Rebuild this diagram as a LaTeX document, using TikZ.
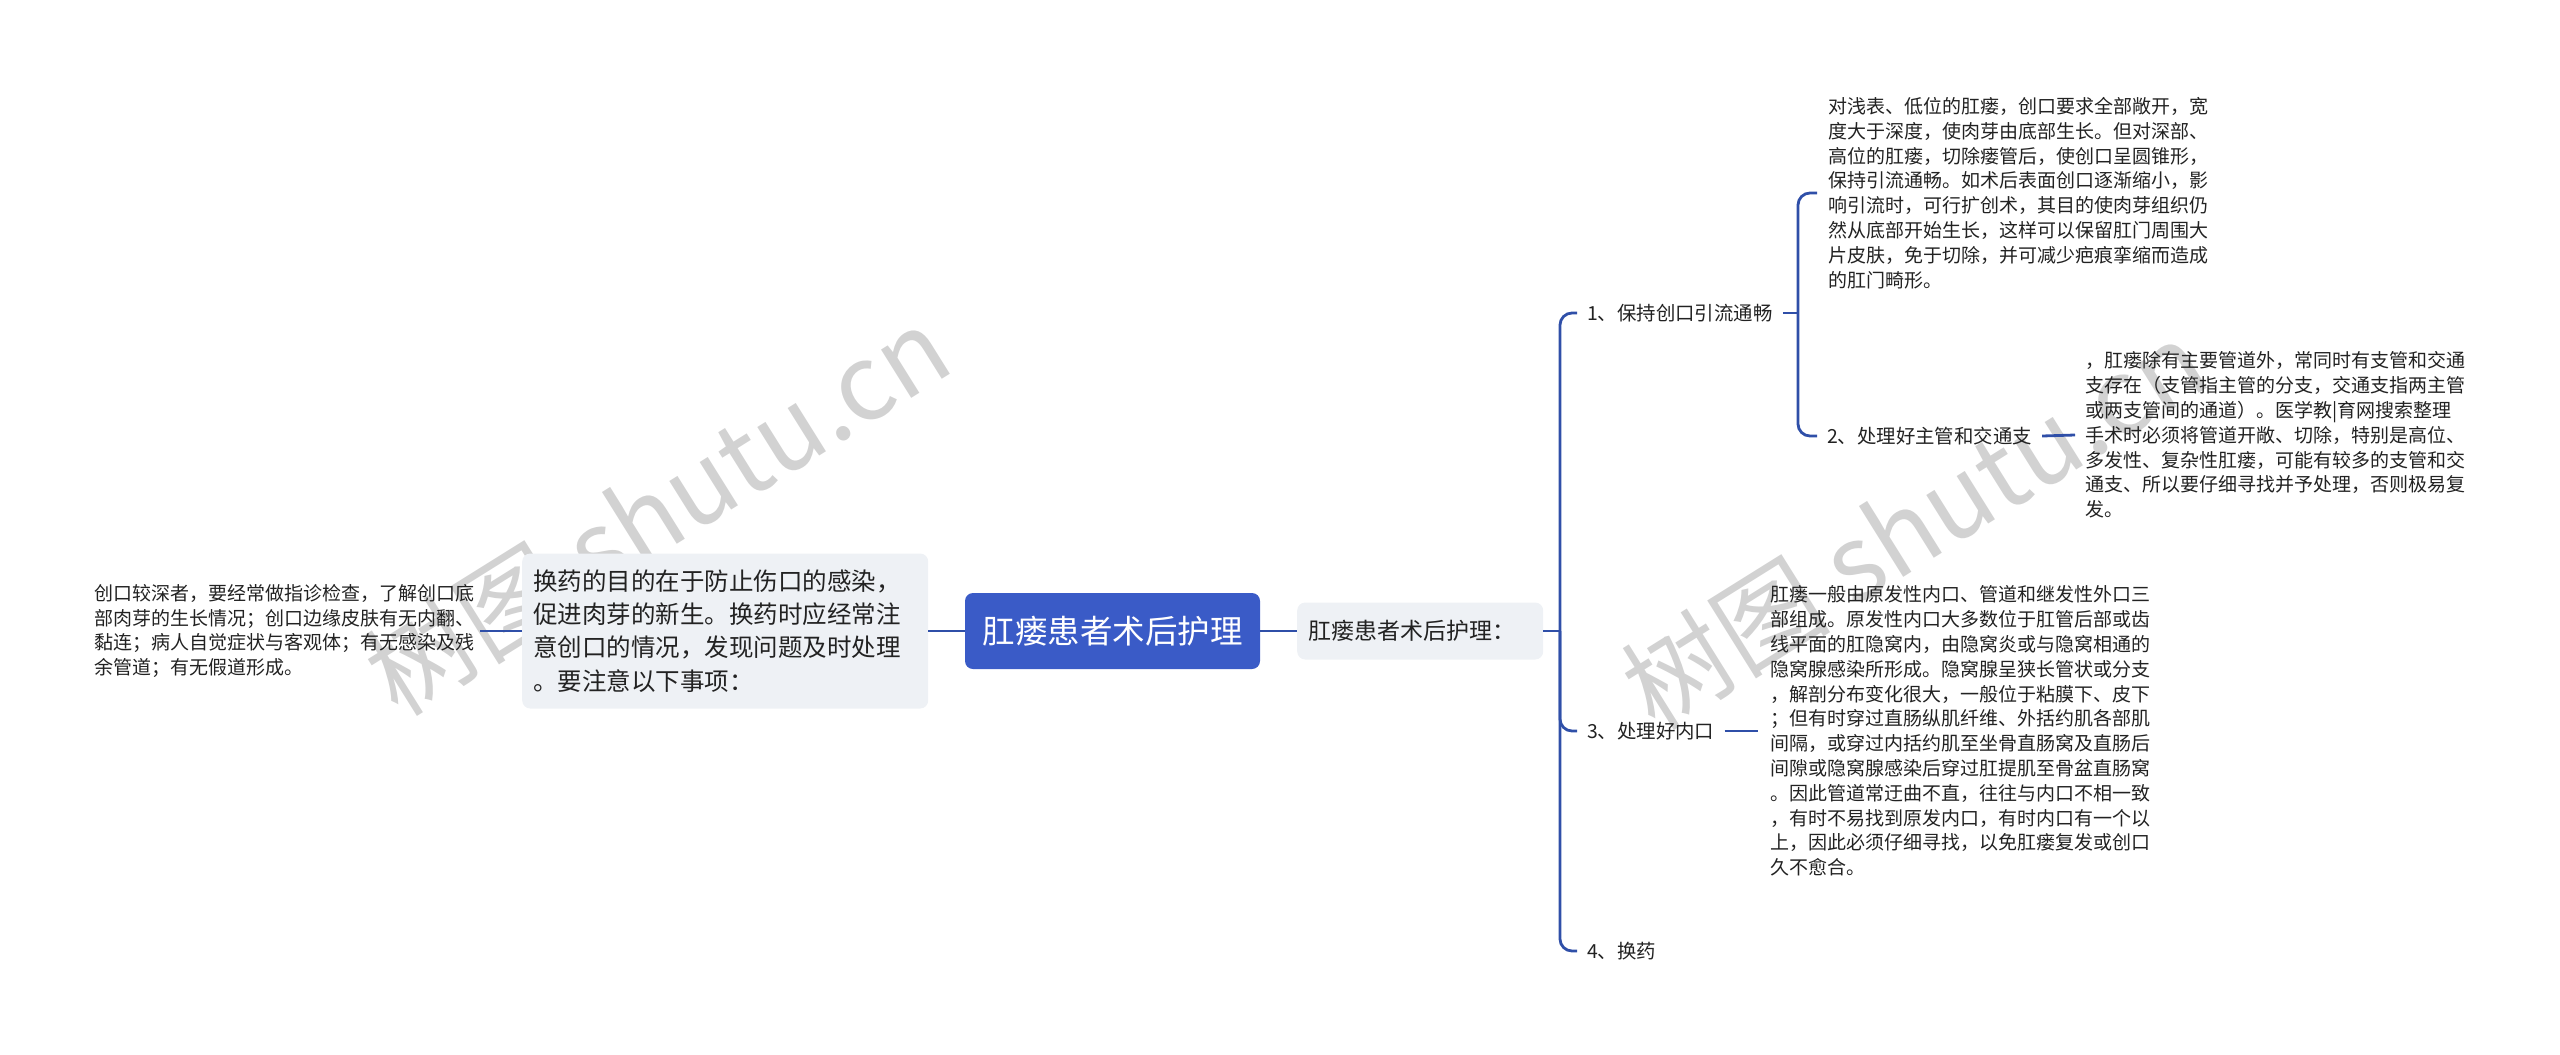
\documentclass[tikz,border=0pt]{standalone}
\usepackage{fontspec}
\setmainfont{Noto Sans CJK SC}
\definecolor{linkblue}{HTML}{2F4FA8}
\definecolor{rootblue}{HTML}{3A5BC7}
\definecolor{boxgray}{HTML}{EEF1F5}
\definecolor{inkgray}{HTML}{222222}
\definecolor{markgray}{HTML}{D2D2D2}
\tikzset{
  link/.style={draw=linkblue, line width=2.8pt},
  note/.style={align=left, inner xsep=11pt, inner ysep=2pt, text=inkgray,
    font=\fontsize{19}{24.8}\selectfont},
  item/.style={anchor=west, inner xsep=10pt, inner ysep=2pt, text=inkgray,
    font=\fontsize{19.4}{22}\selectfont},
  softbox/.style={fill=boxgray, rounded corners=8pt, text=inkgray},
  wmark/.style={text=markgray, rotate=32, font=\fontsize{105}{110}\selectfont}
}
\begin{document}
\begin{tikzpicture}[x=1pt, y=-1pt]
    \useasboundingbox (0,0) rectangle (2560,1055);
    % Watermarks
    \node (wma) at (657,510) [wmark] {树图 shutu.cn};
    \node (wmb) at (1914,524) [wmark] {树图 shutu.cn};

    % Fork points of the brackets
    \coordinate (trunk) at (1560,631);
    \coordinate (fork) at (1798,313);

    % Root and the two boxes beside it
    \node (root) at (1112.5,631) [fill=rootblue, rounded corners=8pt, text=white,
        minimum width=295pt, minimum height=76pt, font=\fontsize{32.5}{36}\selectfont] {肛瘘患者术后护理};
    \node (lbox) at (522,631) [softbox, anchor=west, align=left, text width=384pt,
        inner xsep=11pt, minimum height=155pt, font=\fontsize{24.5}{33.3}\selectfont]
        {换药的目的在于防止伤口的感染，\\促进肉芽的新生。换药时应经常注\\意创口的情况，发现问题及时处理\\。要注意以下事项：};
    \node (sub) at (1297,631) [softbox, anchor=west, align=left, text width=224pt,
        inner xsep=11pt, minimum height=57pt, font=\fontsize{23}{26}\selectfont] {肛瘘患者术后护理：};
    \node (fl) at (88,631) [note, anchor=west, inner xsep=6pt]
        {创口较深者，要经常做指诊检查，了解创口底\\部肉芽的生长情况；创口边缘皮肤有无内翻、\\黏连；病人自觉症状与客观体；有无感染及残\\余管道；有无假道形成。};

    % Items
    \node (i1) at (1577,313) [item] {1、保持创口引流通畅};
    \node (i2) at (1817,436) [item] {2、处理好主管和交通支};
    \node (i3) at (1577,731) [item] {3、处理好内口};
    \node (i4) at (1577,951) [item] {4、换药};

    % Detail texts
    \node (b1) at (1817,193) [note, anchor=west]
        {对浅表、低位的肛瘘，创口要求全部敞开，宽\\度大于深度，使肉芽由底部生长。但对深部、\\高位的肛瘘，切除瘘管后，使创口呈圆锥形，\\保持引流通畅。如术后表面创口逐渐缩小，影\\响引流时，可行扩创术，其目的使肉芽组织仍\\然从底部开始生长，这样可以保留肛门周围大\\片皮肤，免于切除，并可减少疤痕挛缩而造成\\的肛门畸形。};
    \node (b2) at (2075,435) [note, anchor=west, inner xsep=10pt]
        {，肛瘘除有主要管道外，常同时有支管和交通\\支存在（支管指主管的分支，交通支指两主管\\或两支管间的通道）。医学教|育网搜索整理\\手术时必须将管道开敞、切除，特别是高位、\\多发性、复杂性肛瘘，可能有较多的支管和交\\通支、所以要仔细寻找并予处理，否则极易复\\发。};
    \node (b3) at (1758,731) [note, anchor=west, inner xsep=12pt]
        {肛瘘一般由原发性内口、管道和继发性外口三\\部组成。原发性内口大多数位于肛管后部或齿\\线平面的肛隐窝内，由隐窝炎或与隐窝相通的\\隐窝腺感染所形成。隐窝腺呈狭长管状或分支\\，解剖分布变化很大，一般位于粘膜下、皮下\\；但有时穿过直肠纵肌纤维、外括约肌各部肌\\间隔，或穿过内括约肌至坐骨直肠窝及直肠后\\间隙或隐窝腺感染后穿过肛提肌至骨盆直肠窝\\。因此管道常迂曲不直，往往与内口不相一致\\，有时不易找到原发内口，有时内口有一个以\\上，因此必须仔细寻找，以免肛瘘复发或创口\\久不愈合。};

    % Connectors
    \draw[link] (root.west) -- (lbox.east);
    \draw[link] (lbox.west) -- (fl.east);
    \draw[link] (root.east) -- (sub.west);
    \draw[link] (sub.east) -- (trunk);
    \draw[link, rounded corners=12pt] (i1.west) -| (trunk) |- (i4.west);
    \draw[link, rounded corners=12pt] (trunk) |- (i3.west);
    \draw[link] (i1.east) -- (fork);
    \draw[link, rounded corners=12pt] (b1.west) -| (fork) |- (i2.west);
    \draw[link] (i2.east) -- (b2.west);
    \draw[link] (i3.east) -- (b3.west);
\end{tikzpicture}
\end{document}
